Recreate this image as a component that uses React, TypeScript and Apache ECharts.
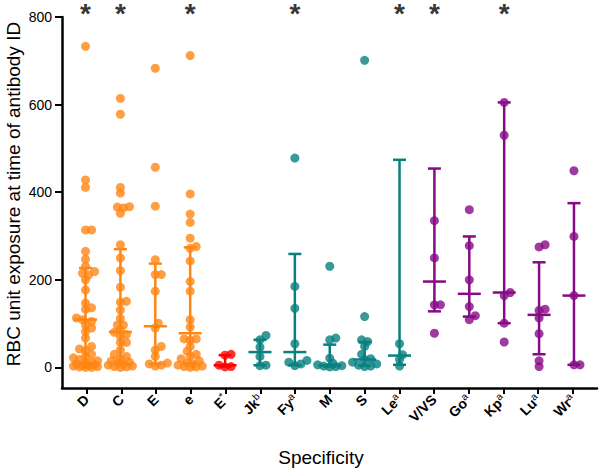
import React, { useEffect, useRef } from 'react';
import * as echarts from 'echarts';

// Category labels (base text + superscript)
const categoryBase = ['D', 'C', 'E', 'e', 'E', 'Jk', 'Fy', 'M', 'S', 'Le', 'V/VS', 'Go', 'Kp', 'Lu', 'Wr'];
const categorySup = ['', '', '', '', '*', 'b', 'a', '', '', 'a', '', 'a', 'a', 'a', 'a'];
const categoryGroup = ['orange', 'orange', 'orange', 'orange', 'red', 'teal', 'teal', 'teal', 'teal', 'teal', 'purple', 'purple', 'purple', 'purple', 'purple'];

// Individual values per specificity
const valuesD = [733, 428, 411, 314, 314, 265, 247, 231, 219, 215, 211, 200, 177, 147, 136, 133, 113, 109, 105, 97, 90, 82, 67, 48, 42, 38, 30, 25, 22, 18, 15, 12, 10, 8, 6, 5, 4, 3, 2, 1, 0, 0];
const valuesC = [614, 578, 411, 398, 367, 366, 364, 352, 280, 250, 221, 183, 151, 149, 131, 112, 97, 97, 86, 80, 75, 71, 57, 57, 40, 30, 25, 20, 15, 12, 10, 8, 5, 3, 2, 1, 0];
const valuesE = [683, 457, 368, 246, 212, 212, 174, 101, 90, 48, 40, 25, 10, 8, 5, 3];
const valuese = [712, 396, 350, 331, 295, 276, 272, 243, 196, 174, 109, 92, 65, 65, 62, 48, 37, 30, 25, 20, 15, 10, 8, 5, 3, 2, 1, 0];
const valuesEstar = [30, 28, 5, 2, 1];
const valuesJkb = [73, 63, 46, 25, 5, 4];
const valuesFya = [478, 185, 135, 54, 16, 12, 8, 4];
const valuesM = [231, 67, 63, 21, 10, 6, 4, 3, 2, 1];
const valuesS = [701, 116, 63, 59, 48, 30, 20, 18, 12, 8, 5, 3, 2];
const valuesLea = [54, 29, 18, 3];
const valuesVVS = [335, 250, 143, 143, 78];
const valuesGoa = [360, 278, 200, 139, 118, 109];
const valuesKpa = [605, 530, 171, 164, 101, 58];
const valuesLua = [280, 275, 133, 130, 113, 77, 15, 2];
const valuesWra = [449, 299, 164, 6, 6];

const allValues = [valuesD, valuesC, valuesE, valuese, valuesEstar, valuesJkb, valuesFya, valuesM, valuesS, valuesLea, valuesVVS, valuesGoa, valuesKpa, valuesLua, valuesWra];

// Central line and error bar ends
const centers = [109, 81, 94, 78, 5, 35, 35, 5, 18, 27, 196, 168, 171, 120, 164];
const lows = [10, 10, 8, 10, 2, 5, 5, 2, 4, 6, 128, 116, 101, 30, 6];
const highs = [227, 270, 237, 274, 28, 63, 259, 52, 58, 474, 454, 299, 605, 240, 375];

// Significance markers
const starredCategories = [0, 1, 3, 6, 9, 10, 12];

const yTicks = [0, 200, 400, 600, 800];

const COLORS: Record<string, string> = {
  orange: '#FF8614',
  red: '#FF0000',
  teal: '#078080',
  purple: '#870A87',
};

const FONT = 'Liberation Sans, Arial, sans-serif';

// layout constants (pixel space) used for the beeswarm spread
const PX_PER_UNIT_Y = 371 / 847;
const PX_PER_CAT = 34.73;

function swarm(vals: number[]): number[] {
  const order = vals.map((v, i) => ({ v, i })).sort((a, b) => a.v - b.v);
  const placed: { x: number; y: number }[] = [];
  const offsets = new Array(vals.length).fill(0);
  const minDist = 5.6;
  for (const p of order) {
    const y = p.v * PX_PER_UNIT_Y;
    let chosen = 0;
    let best = -1;
    let bestCand = 0;
    let found = false;
    for (let k = 0; k <= 8; k++) {
      const cand = k === 0 ? 0 : (k % 2 === 1 ? 1 : -1) * Math.ceil(k / 2) * 3;
      let dmin = Infinity;
      for (const q of placed) dmin = Math.min(dmin, Math.hypot(q.x - cand, q.y - y));
      if (dmin >= minDist) { chosen = cand; found = true; break; }
      if (dmin > best) { best = dmin; bestCand = cand; }
    }
    if (!found) chosen = bestCand;
    placed.push({ x: chosen, y });
    offsets[p.i] = chosen / PX_PER_CAT;
  }
  return offsets;
}

export default function App() {
  const ref = useRef<HTMLDivElement>(null);
  useEffect(() => {
    if (!ref.current) return;
    const chart = echarts.init(ref.current, null, { renderer: 'svg' });

    const points: any[] = [];
    allValues.forEach((vals, ci) => {
      const offs = swarm(vals);
      vals.forEach((v, j) => {
        points.push({ value: [ci + offs[j], v], itemStyle: { color: COLORS[categoryGroup[ci]] } });
      });
    });

    const barData = centers.map((c, i) => [i, c, lows[i], highs[i]]);
    const labelNames = categoryBase.map((b, i) => (categorySup[i] ? `${b}^${categorySup[i]}` : b));

    const option: any = {
      animation: false,
      backgroundColor: '#ffffff',
      grid: [
        { left: 62, right: 3, top: 17, bottom: 84, containLabel: false },
        { left: 69.3, right: 9.7, top: 17, bottom: 84, containLabel: false },
      ],
      xAxis: [
        {
          type: 'value',
          gridIndex: 0,
          min: -0.674,
          max: 14.66,
          axisLine: { show: true, onZero: false, lineStyle: { color: '#000', width: 2.5 } },
          axisTick: { show: false },
          axisLabel: { show: false },
          splitLine: { show: false },
        },
        {
          type: 'category',
          gridIndex: 1,
          data: labelNames,
          boundaryGap: true,
          axisLine: { show: false, onZero: false },
          axisTick: { show: true, alignWithLabel: true, length: 6, lineStyle: { color: '#000', width: 2 } },
          splitLine: { show: false },
          axisLabel: {
            interval: 0,
            rotate: 45,
            margin: 9,
            formatter: (name: string) => {
              const parts = name.split('^');
              return parts.length > 1 ? `{b|${parts[0]}}{s|${parts[1]}}` : `{b|${parts[0]}}`;
            },
            rich: {
              b: { fontFamily: FONT, fontWeight: 'bold', fontSize: 14, color: '#000', lineHeight: 17 },
              s: { fontFamily: FONT, fontSize: 10, color: '#000', verticalAlign: 'top', lineHeight: 17, padding: [0, 0, 6, 0] },
            },
          },
        },
      ],
      yAxis: [
        {
          type: 'value',
          gridIndex: 0,
          min: -47,
          max: 800,
          axisLine: { show: true, onZero: false, lineStyle: { color: '#000', width: 2.5 } },
          axisTick: { show: true, customValues: yTicks, length: 7, lineStyle: { color: '#000', width: 2 } },
          splitLine: { show: false },
          axisLabel: {
            customValues: yTicks,
            margin: 10,
            fontFamily: FONT,
            fontSize: 14,
            color: '#000',
          },
        },
        {
          type: 'value',
          gridIndex: 1,
          min: 0,
          max: 1,
          show: false,
        },
      ],
      graphic: [
        {
          type: 'text',
          x: 13,
          y: 194,
          rotation: Math.PI / 2,
          style: {
            text: 'RBC unit exposure at time of antibody ID',
            fontFamily: FONT,
            fontSize: 19,
            fill: '#000',
            align: 'center',
            verticalAlign: 'middle',
          },
        },
        {
          type: 'text',
          x: 321,
          y: 457,
          style: {
            text: 'Specificity',
            fontFamily: FONT,
            fontSize: 19,
            fill: '#000',
            align: 'center',
            verticalAlign: 'middle',
          },
        },
      ],
      series: [
        {
          type: 'scatter',
          xAxisIndex: 0,
          yAxisIndex: 0,
          symbol: 'circle',
          symbolSize: 9,
          data: points,
          z: 2,
        },
        {
          type: 'custom',
          xAxisIndex: 0,
          yAxisIndex: 0,
          z: 3,
          data: barData,
          renderItem: (params: any, api: any) => {
            const i = api.value(0);
            const c = api.coord([i, api.value(1)]);
            const lo = api.coord([i, api.value(2)]);
            const hi = api.coord([i, api.value(3)]);
            const color = COLORS[categoryGroup[params.dataIndex]];
            const style = { stroke: color, lineWidth: 2.5 };
            return {
              type: 'group',
              children: [
                { type: 'line', shape: { x1: c[0], y1: lo[1], x2: c[0], y2: hi[1] }, style },
                { type: 'line', shape: { x1: c[0] - 6.5, y1: hi[1], x2: c[0] + 6.5, y2: hi[1] }, style },
                { type: 'line', shape: { x1: c[0] - 6.5, y1: lo[1], x2: c[0] + 6.5, y2: lo[1] }, style },
                { type: 'line', shape: { x1: c[0] - 11.5, y1: c[1], x2: c[0] + 11.5, y2: c[1] }, style },
              ],
            };
          },
        },
        {
          type: 'scatter',
          xAxisIndex: 0,
          yAxisIndex: 0,
          symbolSize: 1,
          itemStyle: { color: 'rgba(0,0,0,0)' },
          data: starredCategories.map((i) => [i, 800]),
          label: {
            show: true,
            formatter: '*',
            position: 'inside',
            offset: [0, -4],
            fontFamily: FONT,
            fontSize: 28,
            fontWeight: 'bold',
            color: '#000',
          },
          z: 4,
        },
      ],
    };

    chart.setOption(option);
    return () => chart.dispose();
  }, []);

  return <div ref={ref} style={{ position: 'fixed', left: 0, top: 0, width: 600, height: 472 }} />;
}
